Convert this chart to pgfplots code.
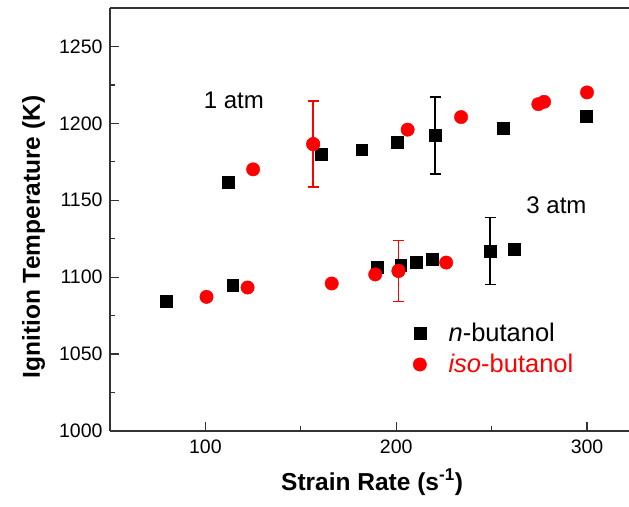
\documentclass[border=0pt]{standalone}
\usepackage{fontspec}
\setmainfont{Liberation Sans}
\usepackage{pgfplots}
\pgfplotsset{compat=1.18}
\usetikzlibrary{calc}
\begin{document}
\begin{tikzpicture}
\begin{axis}[
 scale only axis, width=519pt, height=423pt,
 xmin=50, xmax=322, ymin=1000, ymax=1275,
 axis x line*=box, axis y line*=left,
 axis line style={-, line width=1.2pt, color=black!80},
 xtick={100,200,300}, minor xtick={150,250},
 ytick={1000,1050,...,1250}, minor ytick={1025,1075,...,1225},
 xtick pos=bottom, ytick pos=left, tick align=inside,
 major tick length=9pt, minor tick length=5pt,
 every tick/.style={black!80, line width=1.2pt},
 tick label style={font=\fontsize{19.5}{22}\selectfont},
 /pgf/number format/assume math mode=true,
 /pgf/number format/1000 sep={},
 xticklabel style={yshift=-5pt}, yticklabel style={xshift=-4pt},
 xlabel={Strain Rate (s\textsuperscript{-1})},
 ylabel={Ignition Temperature (K)},
 label style={font=\fontsize{24.5}{29}\selectfont\bfseries},
 xlabel style={at={(axis description cs:0.505,-0.1395)}, anchor=base},
 ylabel style={at={(axis description cs:-0.1349,0.4586)}, anchor=base},
 clip=false,
 legend style={draw=none, fill=none, at={(axis description cs:0.578,0.264)}, anchor=north west,
   font=\fontsize{25.5}{29}\selectfont, row sep=7pt},
 legend cell align=left,
]
% n-butanol
\addplot[only marks, mark=square*, mark size=5.9pt, black] coordinates {
 (112,1161.7) (160.5,1179.9) (181.9,1182.9) (200.6,1187.9) (220.4,1192.2) (256.2,1196.6) (299.6,1204.5)
 (79.5,1084.4) (114.3,1094.8) (190.1,1106.3) (202.4,1107.8) (210.6,1109.9) (219,1111.5) (249.2,1117.1) (261.9,1118.2)
};
\addlegendentry{\hspace*{20pt}\textit{n}-butanol}
% iso-butanol
\addplot[only marks, mark=*, mark size=6.7pt, red] coordinates {
 (125,1170.1) (156.5,1186.5) (206,1195.9) (234,1204.1) (274.5,1212.5) (277.5,1214) (300,1220.1)
 (100.6,1087.2) (122.1,1093.3) (166.2,1095.9) (189,1101.8) (201.2,1104.1) (226.2,1109.5)
};
\addlegendentry{\hspace*{20pt}\textcolor{red}{\textit{iso}-butanol}}
% error bars
\addplot[forget plot, only marks, mark=square*, mark size=5.9pt, black,
  error bars/.cd, y dir=both, y explicit, error mark=|,
  error bar style={line width=1.5pt, black},
  error mark options={line width=1.5pt, mark size=5.5pt, black}]
 coordinates {(220.4,1192.2) +- (0,25) (249.2,1117.1) +- (0,21.8)};
\addplot[forget plot, only marks, mark=*, mark size=6.7pt, red,
  error bars/.cd, y dir=both, y explicit, error mark=|,
  error bar style={line width=1.5pt, red},
  error mark options={line width=1.5pt, mark size=5.5pt, red}]
 coordinates {(156.5,1186.5) +- (0,28) (201.2,1104.1) +- (0,19.8)};
\node[anchor=base, font=\fontsize{24}{28}\selectfont] at (axis cs:114.9,1209.4) {1 atm};
\node[anchor=base, font=\fontsize{24}{28}\selectfont] at (axis cs:284,1141.4) {3 atm};
\end{axis}
\pgfresetboundingbox
\path[use as bounding box] ($(current axis.south west)+(-110pt,-76pt)$) rectangle ($(current axis.north east)+(0pt,8pt)$);
\end{tikzpicture}
\end{document}
